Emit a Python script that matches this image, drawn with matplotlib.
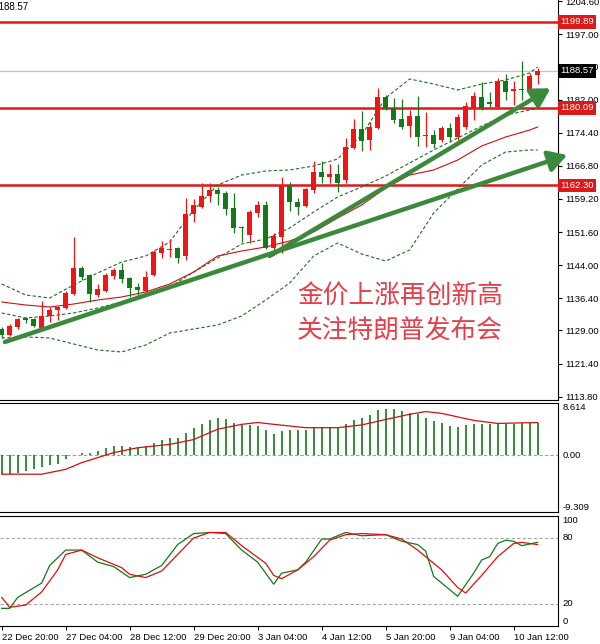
import matplotlib.pyplot as plt
import numpy as np

plt.rcParams['font.family'] = ['Liberation Sans', 'DejaVu Sans']

# 4H candles, 22 Dec 20:00 .. 10 Jan 20:00
candle_open = [1129.33, 1127.95, 1129.79, 1131.74, 1131.63, 1129.56, 1132.32, 1133.69, 1134.15, 1137.37,
               1143.34, 1141.73, 1137.14, 1138.06, 1141.50, 1142.88, 1141.04, 1138.97, 1138.06, 1141.73,
               1146.78, 1147.47, 1147.93, 1146.09, 1155.74, 1157.34, 1159.87, 1161.25, 1160.56, 1157.11,
               1152.75, 1150.91, 1155.96, 1157.80, 1147.93, 1150.46, 1162.16, 1158.49, 1157.57, 1161.25,
               1165.38, 1164.23, 1164.92, 1163.54, 1170.89, 1175.25, 1172.73, 1175.48, 1182.60, 1180.07,
               1177.55, 1175.94, 1178.24, 1173.64, 1173.87, 1172.73, 1175.48, 1173.41, 1175.71, 1180.07,
               1182.60, 1181.45, 1180.30, 1186.27, 1183.98, 1184.44, 1184.21, 1187.65]
candle_high = [1129.79, 1130.48, 1131.86, 1132.09, 1131.86, 1135.76, 1134.38, 1134.61, 1138.06, 1150.46,
               1143.80, 1141.96, 1139.66, 1142.19, 1143.34, 1144.49, 1141.27, 1139.89, 1142.65, 1147.47,
               1149.54, 1150.00, 1148.16, 1159.41, 1159.18, 1162.85, 1162.85, 1161.94, 1161.02, 1160.56,
               1152.98, 1156.65, 1158.72, 1158.72, 1151.37, 1164.23, 1163.08, 1159.41, 1161.71, 1167.90,
               1167.90, 1167.21, 1167.21, 1173.19, 1177.55, 1179.38, 1176.86, 1184.67, 1183.06, 1182.37,
               1182.14, 1179.61, 1182.83, 1179.15, 1175.02, 1175.94, 1176.63, 1178.70, 1181.45, 1183.75,
               1186.04, 1183.75, 1186.96, 1187.88, 1186.27, 1190.87, 1188.11, 1189.26]
candle_low = [1127.26, 1127.72, 1129.33, 1130.71, 1129.79, 1129.10, 1130.94, 1131.40, 1133.92, 1137.14,
              1140.58, 1135.53, 1136.68, 1137.83, 1140.81, 1139.89, 1136.68, 1136.45, 1137.83, 1141.50,
              1145.63, 1145.86, 1144.49, 1145.17, 1153.90, 1157.11, 1158.49, 1157.80, 1155.51, 1151.37,
              1149.31, 1149.08, 1155.05, 1147.70, 1146.32, 1146.78, 1156.42, 1155.51, 1157.34, 1160.56,
              1162.85, 1162.85, 1160.79, 1162.85, 1170.66, 1170.20, 1170.43, 1175.25, 1179.61, 1176.63,
              1175.25, 1173.41, 1171.35, 1171.12, 1170.89, 1172.27, 1172.27, 1172.73, 1175.25, 1177.32,
              1179.61, 1180.30, 1180.07, 1181.91, 1180.76, 1181.91, 1182.83, 1185.58]
candle_close = [1127.95, 1130.02, 1131.63, 1131.51, 1130.02, 1132.32, 1133.69, 1134.38, 1137.60, 1143.34,
                1141.27, 1137.37, 1138.52, 1141.73, 1142.88, 1140.81, 1138.74, 1138.29, 1141.27, 1147.01,
                1147.93, 1147.70, 1145.63, 1155.74, 1157.80, 1159.87, 1161.25, 1160.33, 1156.88, 1152.52,
                1152.52, 1156.19, 1157.80, 1147.93, 1150.68, 1162.39, 1158.49, 1157.34, 1161.48, 1165.38,
                1164.23, 1164.92, 1162.85, 1171.12, 1175.25, 1172.50, 1175.71, 1182.60, 1179.84, 1177.32,
                1175.71, 1178.24, 1173.41, 1173.87, 1171.81, 1175.48, 1173.41, 1178.01, 1180.53, 1182.83,
                1180.07, 1180.99, 1186.27, 1183.75, 1184.44, 1184.21, 1187.42, 1188.57]

# bollinger bands + slow MA, read every 3 bars
band_idx = [0, 3, 6, 9, 12, 15, 18, 21, 24, 27, 30, 33, 36, 39, 42, 45, 48, 51, 54, 57, 60, 63, 66, 67]
bb_upper = [1139.66, 1137.14, 1136.45, 1139.43, 1142.19, 1144.71, 1146.09, 1149.31, 1156.65, 1162.39,
            1164.69, 1165.61, 1165.84, 1166.76, 1168.36, 1173.87, 1182.37, 1186.73, 1185.58, 1184.21,
            1185.58, 1186.50, 1188.11, 1189.49]
bb_mid = [1133.01, 1131.86, 1132.32, 1133.01, 1134.15, 1135.53, 1137.14, 1138.97, 1142.42, 1145.63,
          1148.85, 1150.00, 1152.52, 1156.19, 1159.64, 1161.94, 1164.46, 1167.45, 1170.43, 1173.19,
          1175.94, 1178.47, 1179.61, 1180.07]
bb_lower = [1127.27, 1127.50, 1127.27, 1125.89, 1124.51, 1124.05, 1125.66, 1128.41, 1129.33, 1130.25,
            1132.32, 1135.99, 1139.89, 1146.09, 1149.08, 1146.55, 1144.94, 1147.47, 1155.96, 1161.48,
            1166.99, 1169.97, 1170.43, 1170.43]
ma_slow = [1135.53, 1134.84, 1134.38, 1135.07, 1135.99, 1136.68, 1137.83, 1139.66, 1142.42, 1146.09,
           1147.24, 1148.16, 1149.54, 1151.60, 1154.82, 1157.80, 1161.71, 1164.69, 1165.84, 1168.13,
           1171.35, 1173.41, 1175.02, 1175.71]

levels = [1199.89, 1180.09, 1162.30]
last_price = 1188.57

# hand drawn trend arrows: (start idx, start price, end idx, end price)
trend_arrows = [(0.4, 1126.35, 70.7, 1169.28),
                (33.5, 1146.09, 68.6, 1184.6)]

price_ticks = [1204.60, 1197.00, 1189.60, 1182.00, 1174.40, 1166.80, 1159.20,
               1151.60, 1144.00, 1136.40, 1129.00, 1121.40, 1113.80]

macd_hist = [-3.1, -3.1, -2.85, -2.6, -2.3, -1.9, -1.65, -1.5, -0.65, 0.05,
             0.45, 0.45, 0.7, 1.15, 1.55, 1.55, 1.4, 1.25, 1.55, 2.0,
             2.5, 2.9, 2.9, 3.6, 4.45, 5.1, 5.8, 6.1, 5.9, 5.4,
             5.0, 5.0, 4.8, 4.1, 3.55, 4.0, 4.1, 4.1, 4.1, 4.55,
             4.7, 4.7, 4.7, 5.2, 5.8, 6.2, 6.6, 7.4, 7.7, 7.6,
             7.3, 7.0, 6.85, 6.2, 5.65, 5.4, 4.8, 4.7, 5.0, 5.1,
             5.1, 5.2, 5.2, 5.2, 5.2, 5.25, 5.4, 5.4]
sig_idx = [0, 5, 8, 10, 14, 17, 21, 24, 27, 30, 32, 34, 38, 42, 45, 48, 51, 53, 55, 59, 62, 67]
sig_val = [-3.1, -3.1, -2.3, -1.2, 0.45, 1.25, 1.8, 2.6, 4.3, 5.1, 5.4, 5.1, 4.55, 4.55, 5.0,
           5.9, 6.75, 7.2, 6.9, 5.75, 5.25, 5.4]

k_idx = [0, 1, 2, 5, 6, 8, 10, 12, 14, 16, 18, 20, 22, 24, 26, 28, 30, 32, 34, 35, 37, 38,
         40, 41, 43, 45, 48, 50, 52, 53, 54, 56, 57, 59, 60, 61, 62, 63, 64, 65, 67]
k_val = [16, 16, 26, 39, 55, 69, 69, 58, 54, 44, 47, 55, 74, 84, 85, 84, 69, 58, 38, 48, 51, 58,
         79, 79, 85, 82, 83, 77, 74, 68, 45, 33, 27, 48, 60, 63, 75, 78, 77, 73, 76]
d_idx = [0, 1, 3, 5, 7, 8, 10, 12, 15, 16, 18, 20, 22, 24, 26, 28, 30, 33, 34, 35, 37, 39,
         41, 43, 45, 48, 50, 52, 55, 57, 58, 60, 62, 64, 65, 67]
d_val = [26, 17, 19, 31, 51, 65, 69, 62, 53, 47, 44, 50, 65, 80, 85, 85, 73, 57, 46, 43, 51, 63,
         78, 83, 84, 83, 79, 69, 51, 35, 30, 46, 63, 75, 76, 74]

date_idx = [0, 8, 16, 24, 32, 40, 48, 56, 64]
date_labels = ['22 Dec 20:00', '27 Dec 04:00', '28 Dec 12:00', '29 Dec 20:00', '3 Jan 04:00',
               '4 Jan 12:00', '5 Jan 20:00', '9 Jan 04:00', '10 Jan 12:00']

RED = '#ee1515'
GREEN = '#15781a'
BAND = '#1f6b22'
LVL = '#dc1a1a'
FS = 6.8

fig = plt.figure(figsize=(6, 6.44), dpi=100)
ax = fig.add_axes([0, 0.3789, 0.93, 0.6211])
ax_macd = fig.add_axes([0, 0.205, 0.93, 0.1693])
ax_st = fig.add_axes([0, 0.028, 0.93, 0.1708])

o = np.array(candle_open)
h = np.array(candle_high)
l = np.array(candle_low)
c = np.array(candle_close)
x = np.arange(len(c))
cols = np.where(c >= o, RED, GREEN)

xlim = (-0.21, 69.54)
for a in (ax, ax_macd, ax_st):
    a.set_xlim(*xlim)
    a.spines['left'].set_visible(False)
    a.yaxis.tick_right()
    a.tick_params(axis='y', length=3, pad=2, labelsize=FS, width=0.8)

# main price panel
ax.set_ylim(1113.03, 1204.87)
ax.spines['top'].set_visible(False)
ax.set_xticks([])
ax.set_yticks(price_ticks)
ax.set_yticklabels(['%.2f' % t for t in price_ticks])

ax.axhline(last_price, color='#c4c4c4', lw=0.9, zorder=1)
for lv in levels:
    ax.axhline(lv, color=LVL, lw=1.8, zorder=1)

ax.plot(band_idx, bb_upper, color=BAND, lw=0.8, ls=(0, (3, 2)), zorder=2)
ax.plot(band_idx, bb_mid, color=BAND, lw=0.8, ls=(0, (3, 2)), zorder=2)
ax.plot(band_idx, bb_lower, color=BAND, lw=0.8, ls=(0, (3, 2)), zorder=2)
ax.plot(band_idx, ma_slow, color='#cc1010', lw=0.8, zorder=2)

ax.vlines(x, l, h, colors=cols, lw=0.9, zorder=3)
ax.bar(x, np.maximum(np.abs(c - o), 0.25), bottom=np.minimum(o, c), width=0.62,
       color=cols, lw=0, zorder=3)

for x0, y0, x1, y1 in trend_arrows:
    ax.annotate('', xy=(x1, y1), xytext=(x0, y0), annotation_clip=False, zorder=4,
                arrowprops=dict(arrowstyle='-|>,head_length=0.55,head_width=0.32', lw=3.2,
                                color='#3b8a3b', mutation_scale=20, shrinkA=0, shrinkB=0))

ytr = ax.get_yaxis_transform()
for lv in levels:
    ax.text(1.004, lv, '%.2f' % lv, transform=ytr, ha='left', va='center', color='white',
            fontsize=FS, clip_on=False, zorder=6,
            bbox=dict(boxstyle='square,pad=0.25', fc=LVL, ec='none'))
ax.text(1.004, last_price, '%.2f' % last_price, transform=ytr, ha='left', va='center',
        color='white', fontsize=FS, clip_on=False, zorder=6,
        bbox=dict(boxstyle='square,pad=0.25', fc='black', ec='none'))

fig.text(-0.009, 0.989, '%.2f' % last_price, fontsize=7, va='center', ha='left')

fig.text(0.495, 0.5388, '金价上涨再创新高', fontsize=18.5, color='#e4404a',
         family=['Noto Sans CJK SC'], fontweight='light', va='center', ha='left')
fig.text(0.495, 0.4845, '关注特朗普发布会', fontsize=18.5, color='#e4404a',
         family=['Noto Sans CJK SC'], fontweight='light', va='center', ha='left')

# MACD panel
ax_macd.set_ylim(-9.309, 8.614)
ax_macd.set_xticks([])
ax_macd.set_yticks([])
ax_macd.axhline(0, color='#a0a0a0', lw=0.8, ls=(0, (3, 2)))
ax_macd.vlines(x, 0, macd_hist, colors=GREEN, lw=1.2)
ax_macd.plot(sig_idx, sig_val, color='#d01010', lw=0.9)
mtr = ax_macd.get_yaxis_transform()
ax_macd.text(1.008, 8.614, '8.614', transform=mtr, fontsize=FS, va='top', ha='left')
ax_macd.text(1.008, 0, '0.00', transform=mtr, fontsize=FS, va='center', ha='left')
ax_macd.text(1.008, -9.309, '-9.309', transform=mtr, fontsize=FS, va='bottom', ha='left')

# stochastic panel
ax_st.set_ylim(0, 100)
ax_st.set_yticks([])
ax_st.axhline(80, color='#a8a8a8', lw=0.8, ls=(0, (3, 2)))
ax_st.axhline(20, color='#a8a8a8', lw=0.8, ls=(0, (3, 2)))
ax_st.plot(k_idx, k_val, color=GREEN, lw=0.9)
ax_st.plot(d_idx, d_val, color='#dd1010', lw=0.9)
str_ = ax_st.get_yaxis_transform()
ax_st.text(1.008, 100, '100', transform=str_, fontsize=FS, va='top', ha='left')
ax_st.text(1.008, 80, '80', transform=str_, fontsize=FS, va='center', ha='left')
ax_st.text(1.008, 20, '20', transform=str_, fontsize=FS, va='center', ha='left')
ax_st.text(1.008, 0, '0', transform=str_, fontsize=FS, va='bottom', ha='left')
ax_st.set_xticks(date_idx)
ax_st.set_xticklabels(date_labels, ha='left', fontsize=FS)
ax_st.tick_params(axis='x', length=3, pad=2, width=0.8)

fig.savefig('out.png', dpi=100)
